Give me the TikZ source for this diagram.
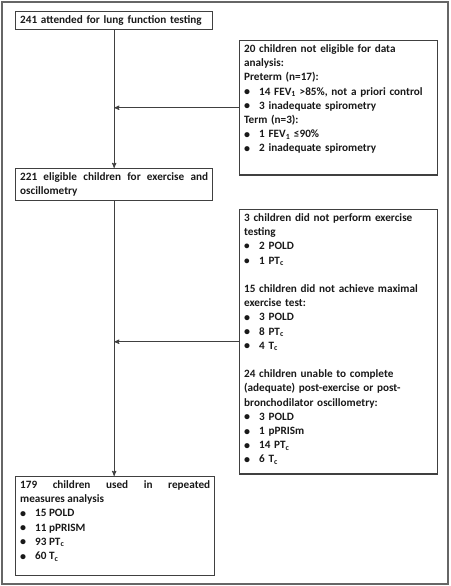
\documentclass[tikz,border=0pt]{standalone}
\usepackage{fontspec}
\setmainfont{Carlito}
\usetikzlibrary{arrows,positioning}
\hyphenpenalty=10000

\newcommand{\bul}{\makebox[15pt][l]{\textbullet}}
\newcommand{\Bul}{\makebox[15pt][l]{\raisebox{-0.5pt}{\large\textbullet}}}
\newcommand{\lo}[1]{\textsubscript{#1}}
\newcommand{\gap}[1]{\rule[-#1]{0pt}{#1}}

\begin{document}
\begin{tikzpicture}[x=1pt, y=-1pt,
    box/.style={draw=black!75, line width=1.3pt, anchor=north west,
        inner xsep=4.5pt, inner ysep=4pt, text width=188pt, align=left,
        text=black!90, font=\bfseries\fontsize{11.2}{14.2}\selectfont},
    arr/.style={draw=black!75, line width=0.9pt, -stealth'}]
    \useasboundingbox (0,0) rectangle (450,586);
    \draw[black!60, line width=1.2pt] (2,2) rectangle (448,584);

    \node[box] (att) at (15,11) {241 attended for lung function testing};
    \node[box, text width=189pt] (excl1) at (239,40) {20 children not eligible for data\\
        analysis:\\
        Preterm (n=17):\\
        \Bul 14 FEV\lo{1} >85\%, not a priori control\\
        \Bul 3 inadequate spirometry\\
        Term (n=3):\\
        \Bul 1 FEV\lo{1} ≤90\%\\
        \Bul 2 inadequate spirometry\gap{19pt}};
    \node[box, align=justify] (elig) at (15,168) {221 eligible children for exercise and\linebreak oscillometry};
    \node[box, text width=189pt] (excl2) at (239,209) {3 children did not perform exercise\\
        testing\\
        \bul 2 POLD\\
        \bul 1 PT\lo{c}\\[14.2pt]
        15 children did not achieve maximal\\
        exercise test:\\
        \Bul 3 POLD\\
        \Bul 8 PT\lo{c}\\
        \Bul 4 T\lo{c}\\[14.2pt]
        24 children unable to complete\\
        (adequate) post-exercise or post-\\
        bronchodilator oscillometry:\\
        \Bul 3 POLD\\
        \Bul 1 pPRISm\\
        \Bul 14 PT\lo{c}\\
        \Bul 6 T\lo{c}\gap{7pt}};
    \node[box, align=justify, text width=190pt] (anal) at (15,476) {179 children used in repeated\linebreak
        measures analysis\\
        \Bul 15 POLD\\
        \Bul 11 pPRISM\\
        \Bul 93 PT\lo{c}\\
        \Bul 60 T\lo{c}\gap{12pt}};

    \draw[arr] (att.south) -- (elig.north);
    \draw[arr] (elig.south) -- (elig.south |- anal.north);
    \draw[arr] (excl1.west) -- (excl1.west -| att.south);
    \draw[arr] (excl2.west) -- (excl2.west -| att.south);
\end{tikzpicture}
\end{document}
